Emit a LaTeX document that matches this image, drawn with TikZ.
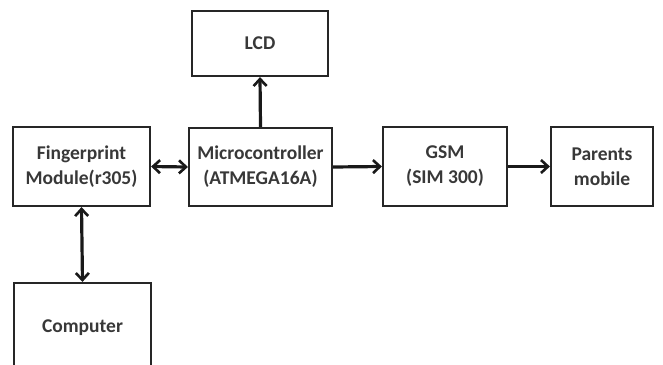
\documentclass[tikz,border=0pt]{standalone}
\usepackage{fontspec}
\setmainfont{Carlito}
\usetikzlibrary{arrows.meta}
\begin{document}
\begin{tikzpicture}[x=1pt,y=-1pt,
  blk/.style={draw=black!85,line width=2.2pt,inner sep=0pt,font=\bfseries\fontsize{19.5}{25}\selectfont,text=black!78,align=center},
  conn/.style={line width=3.2pt,draw=black!90,-{Straight Barb[length=7pt,width=13pt,line width=2.6pt]}},
  bconn/.style={line width=3.2pt,draw=black!90,{Straight Barb[length=7pt,width=13pt,line width=2.6pt]}-{Straight Barb[length=7pt,width=13pt,line width=2.6pt]}}]
\useasboundingbox (0,0) rectangle (663,364);
\node[blk,minimum width=136pt,minimum height=65pt] (lcd) at (260,43.5) {LCD};
\node[blk,minimum width=137pt,minimum height=79pt] (fp) at (81.5,166.5) {Fingerprint\\Module(r305)};
\node[blk,minimum width=143pt,minimum height=78pt] (mc) at (260.5,167) {Microcontroller\\(ATMEGA16A)};
\node[blk,minimum width=124pt,minimum height=79pt] (gsm) at (445,166.5) {GSM\\(SIM 300)};
\node[blk,minimum width=102pt,minimum height=79pt] (pm) at (602,166.5) {Parents\\mobile};
\node[blk,minimum width=137pt,minimum height=90pt] (pc) at (82.5,328) {Computer};
\draw[conn] (mc.north) -- (lcd.south);
\draw[bconn] (fp.east) -- (mc.west);
\draw[conn] (mc.east) -- (gsm.west);
\draw[conn] (gsm.east) -- (pm.west);
\draw[bconn] (fp.south) -- (pc.north);
\end{tikzpicture}
\end{document}
